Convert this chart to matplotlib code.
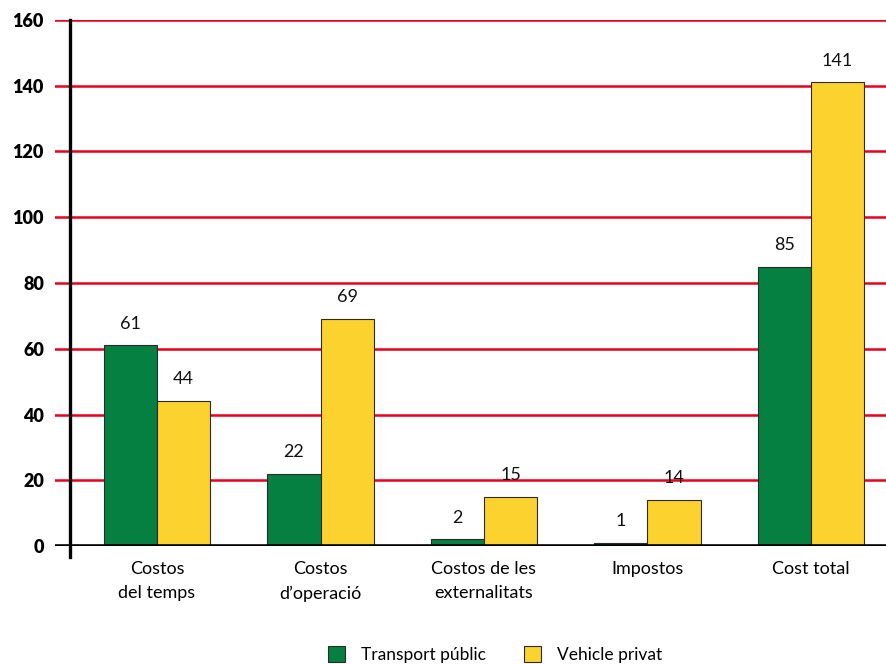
import matplotlib.pyplot as plt
import numpy as np

plt.rcParams['font.family'] = ['Lato', 'DejaVu Sans']

categories = ['Costos\ndel temps', 'Costos\nd\u2019operaci\u00f3', 'Costos de les\nexternalitats',
              'Impostos', 'Cost total']
transport_public = [61, 22, 2, 1, 85]
vehicle_privat = [44, 69, 15, 14, 141]
series_names = ['Transport p\u00fablic', 'Vehicle privat']

green = '#058040'
yellow = '#fcd22e'
red = '#e8001c'

fig = plt.figure(figsize=(8.87, 6.64), dpi=100)
ax = fig.add_axes([0.062, 0.1777, 0.938, 0.7922])

x = np.arange(len(categories))
w = 0.325
b1 = ax.bar(x - w / 2, transport_public, w, color=green, edgecolor='#2a2a2a', linewidth=0.8,
            label=series_names[0], zorder=3)
b2 = ax.bar(x + w / 2, vehicle_privat, w, color=yellow, edgecolor='#2a2a2a', linewidth=0.8,
            label=series_names[1], zorder=3)

for bars, vals in ((b1, transport_public), (b2, vehicle_privat)):
    for rect, v in zip(bars, vals):
        ax.annotate(str(v), (rect.get_x() + rect.get_width() / 2, v),
                    xytext=(0, 10), textcoords='offset points',
                    ha='center', va='bottom', fontsize=13, color='#111111')

# red gridlines, black baseline
for yv in range(20, 161, 20):
    ax.axhline(yv, color=red, linewidth=1.8, zorder=1)
ax.axhline(0, color='black', linewidth=2.6, zorder=4)

ax.set_xlim(-0.624, 4.465)
ax.set_ylim(0, 160)

# vertical axis line drawn inside the plot area
ax.plot([-0.532, -0.532], [-3.4, 160], color='black', linewidth=2.4, clip_on=False, zorder=5)

for s in ax.spines.values():
    s.set_visible(False)

ax.set_yticks(range(0, 161, 20))
ax.set_yticklabels([str(v) for v in range(0, 161, 20)], fontsize=13, fontweight='heavy')
ax.tick_params(axis='y', length=0, pad=8)
ax.set_xticks(x)
ax.set_xticklabels(categories, fontsize=13, linespacing=1.6)
ax.tick_params(axis='x', length=0, pad=11)

fig.legend(handles=[b1, b2], labels=series_names, loc='center', bbox_to_anchor=(0.558, 0.014),
           ncol=2, frameon=False, fontsize=12.5, handlelength=1.0, handleheight=1.0,
           handletextpad=0.9, columnspacing=2.2)

fig.savefig('out.png', dpi=100)
